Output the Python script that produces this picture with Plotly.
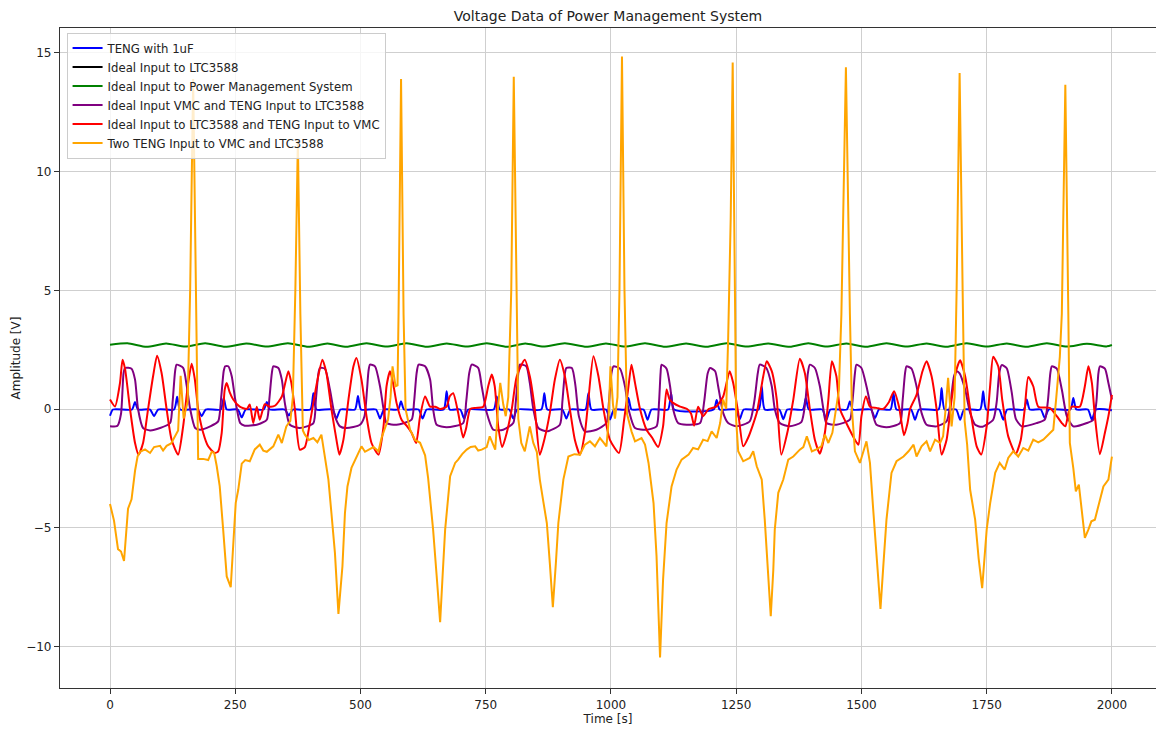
import plotly.graph_objects as go

# ---------------- data ----------------
blue_t = [0, 6, 44, 50, 56, 80, 88, 96, 128, 134, 140, 175, 183, 191, 221, 227, 233, 255, 263, 271,
          307, 313, 319, 349, 357, 365, 400, 406, 412, 444, 452, 460, 489, 495, 501, 531, 539, 547,
          575, 581, 587, 616, 624, 632, 666, 672, 678, 699, 707, 715, 766, 772, 778, 797, 805, 813,
          861, 867, 873, 903, 911, 919, 949, 955, 961, 990, 998, 1006, 1029, 1035, 1041, 1065, 1073,
          1081, 1114, 1120, 1126, 1205, 1211, 1217, 1249, 1257, 1265, 1295, 1301, 1307, 1336, 1344,
          1352, 1383, 1389, 1395, 1422, 1430, 1438, 1471, 1477, 1483, 1519, 1527, 1535, 1558, 1564,
          1570, 1599, 1607, 1615, 1654, 1660, 1666, 1689, 1697, 1705, 1737, 1743, 1749, 1775, 1783,
          1791, 1824, 1830, 1836, 1858, 1866, 1874, 1917, 1923, 1929, 1952, 1960, 1968, 2000]
blue_v = [-0.28, -0.02, -0.02, 0.3, -0.02, -0.02, -0.3, -0.02, -0.02, 0.52, -0.02, -0.02, -0.3, -0.02,
          -0.02, 0.47, -0.02, -0.02, -0.35, -0.02, -0.02, 0.3, -0.02, -0.02, -0.27, -0.02, -0.02, 0.67,
          -0.02, -0.02, -0.4, -0.02, -0.02, 0.55, -0.02, -0.02, -0.4, -0.02, -0.02, 0.33, -0.02, -0.02,
          -0.4, -0.02, -0.02, 0.75, -0.02, -0.02, -0.4, -0.02, -0.02, 0.53, -0.02, -0.02, -0.4, -0.02,
          -0.02, 0.67, -0.02, -0.02, -0.4, -0.02, -0.02, 0.67, -0.02, -0.02, -0.44, -0.02, -0.02, 0.47,
          -0.02, -0.02, -0.45, -0.02, -0.02, 0.67, -0.02, -0.02, 0.38, -0.02, -0.02, -0.43, -0.02,
          -0.02, 0.96, -0.02, -0.02, -0.43, -0.02, -0.02, 0.47, -0.02, -0.02, -0.45, -0.02, -0.02,
          0.33, -0.02, -0.02, -0.38, -0.02, -0.02, 0.67, -0.02, -0.02, -0.45, -0.02, -0.02, 0.89,
          -0.02, -0.02, -0.45, -0.02, -0.02, 0.75, -0.02, -0.02, -0.45, -0.02, -0.02, 0.4, -0.02,
          -0.02, -0.38, -0.02, -0.02, 0.47, -0.02, -0.02, -0.45, -0.02, -0.05]

# the black series has no visible samples in the picture (legend entry only)
black_t = [0]
black_v = [None]

green_t = [0, 35, 73, 112, 150, 190, 230, 272, 313, 355, 396, 434, 472, 512, 552, 592, 632, 672, 712,
           752, 792, 829, 865, 908, 951, 990, 1028, 1068, 1108, 1150, 1191, 1231, 1271, 1314, 1357,
           1394, 1430, 1470, 1510, 1550, 1590, 1630, 1670, 1710, 1750, 1790, 1830, 1870, 1910, 1950,
           1990, 2000]
green_v = [2.71, 2.77, 2.62, 2.76, 2.63, 2.77, 2.62, 2.76, 2.63, 2.77, 2.62, 2.76, 2.62, 2.77, 2.63,
           2.77, 2.62, 2.76, 2.63, 2.77, 2.62, 2.76, 2.63, 2.77, 2.62, 2.76, 2.63, 2.77, 2.62, 2.76,
           2.62, 2.77, 2.63, 2.76, 2.62, 2.77, 2.63, 2.76, 2.62, 2.77, 2.63, 2.76, 2.62, 2.77, 2.63,
           2.76, 2.62, 2.77, 2.63, 2.75, 2.64, 2.70]

purple_t = [0, 15, 22, 27, 30, 43, 50, 56, 66, 80, 100, 120, 125, 130, 133, 146, 153, 160, 170, 180,
            200, 216, 222, 227, 230, 236, 243, 250, 260, 269, 293, 313, 318, 323, 326, 336, 343, 349,
            359, 379, 406, 411, 416, 419, 429, 439, 449, 459, 472, 499, 508, 513, 516, 519, 529, 539,
            546, 552, 572, 602, 607, 612, 616, 629, 639, 645, 652, 672, 705, 711, 717, 722, 735, 742,
            752, 765, 785, 805, 810, 815, 818, 831, 838, 845, 855, 872, 898, 903, 908, 911, 922, 929,
            936, 948, 971, 991, 996, 1001, 1005, 1018, 1028, 1035, 1048, 1071, 1091, 1096, 1099, 1101,
            1111, 1118, 1124, 1134, 1151, 1178, 1186, 1193, 1198, 1208, 1214, 1224, 1234, 1251, 1277,
            1286, 1293, 1297, 1310, 1321, 1327, 1337, 1357, 1380, 1388, 1393, 1397, 1407, 1417, 1424,
            1430, 1450, 1477, 1482, 1487, 1490, 1500, 1510, 1520, 1530, 1550, 1577, 1582, 1587, 1590,
            1600, 1610, 1620, 1630, 1650, 1670, 1678, 1685, 1690, 1696, 1707, 1717, 1727, 1740, 1763,
            1770, 1775, 1780, 1790, 1800, 1808, 1820, 1850, 1866, 1872, 1877, 1880, 1890, 1900, 1910,
            1923, 1950, 1963, 1969, 1973, 1976, 1986, 1993, 2000]
purple_v = [-0.73, -0.7, -0.2, 1.5, 1.73, 1.7, 1.24, 0, -0.8, -0.9, -0.8, -0.59, 0.3, 1.6, 1.87, 1.73,
            1.0, 0, -0.8, -0.87, -0.73, -0.52, 0.5, 1.6, 1.8, 1.8, 1.38, 0.4, -0.59, -0.7, -0.66,
            -0.45, 0.4, 1.5, 1.8, 1.73, 1.24, 0.26, -0.66, -0.8, -0.59, 0.4, 1.5, 1.73, 1.7, 0.82,
            -0.3, -0.73, -0.8, -0.66, -0.3, 0.8, 1.6, 1.87, 1.8, 0.96, 0, -0.59, -0.66, -0.45, 0.3,
            1.5, 1.87, 1.8, 1.24, 0, -0.66, -0.77, -0.59, 0.3, 1.5, 1.87, 1.73, 0.96, -0.16, -0.87,
            -0.87, -0.59, 0.3, 1.5, 1.87, 1.8, 1.1, 0, -0.8, -0.94, -0.66, 0.3, 1.5, 1.73, 1.73, 1.0,
            -0.3, -0.94, -0.87, -0.59, 0.3, 1.5, 1.8, 1.7, 0.96, 0, -0.8, -0.87, -0.73, 0.3, 1.5,
            1.87, 1.7, 0.96, 0, -0.59, -0.66, -0.59, 0.3, 1.5, 1.73, 1.59, 0.96, -0.16, -0.59, -0.73,
            -0.52, 0.3, 1.5, 1.87, 1.73, 0.96, 0, -0.59, -0.73, -0.55, 0.3, 1.5, 1.87, 1.73, 0.96, 0,
            -0.59, -0.66, -0.45, 0.3, 1.5, 1.87, 1.73, 0.96, 0, -0.66, -0.77, -0.59, 0.3, 1.5, 1.8,
            1.7, 0.96, -0.16, -0.66, -0.73, -0.52, 0.3, 1.4, 1.59, 1.5, 0.82, -0.16, -0.66, -0.75,
            -0.45, 0.3, 1.5, 1.85, 1.72, 0.7, -0.4, -0.73, -0.59, -0.45, 0.3, 1.5, 1.8, 1.7, 0.82,
            -0.3, -0.73, -0.59, -0.45, 0.3, 1.5, 1.8, 1.7, 1.1, 0.4]

red_t = [0, 10, 20, 25, 30, 40, 50, 57, 66, 76, 86, 94, 103, 113, 123, 136, 146, 156, 163, 169, 176,
         186, 196, 209, 216, 223, 229, 233, 239, 246, 259, 273, 279, 286, 293, 299, 309, 319, 330, 343,
         356, 362, 369, 379, 389, 399, 413, 424, 432, 442, 452, 458, 466, 476, 486, 492, 502, 512, 522,
         536, 546, 552, 559, 565, 572, 582, 592, 602, 611, 619, 629, 639, 649, 659, 672, 678, 685, 695,
         705, 711, 719, 730, 745, 755, 762, 768, 775, 783, 792, 802, 812, 828, 838, 848, 858, 868, 878,
         888, 898, 908, 918, 928, 938, 948, 955, 965, 975, 985, 998, 1016, 1026, 1035, 1041, 1048,
         1058, 1071, 1082, 1094, 1104, 1111, 1117, 1124, 1138, 1152, 1160, 1166, 1174, 1184, 1195,
         1210, 1224, 1237, 1244, 1254, 1264, 1274, 1291, 1304, 1311, 1321, 1331, 1340, 1352, 1364,
         1377, 1387, 1397, 1407, 1417, 1427, 1434, 1441, 1450, 1457, 1470, 1487, 1494, 1500, 1509,
         1517, 1530, 1543, 1555, 1565, 1575, 1585, 1592, 1597, 1610, 1622, 1630, 1640, 1650, 1660,
         1670, 1680, 1689, 1697, 1707, 1717, 1730, 1739, 1750, 1757, 1763, 1773, 1781, 1793, 1808,
         1818, 1826, 1833, 1843, 1853, 1876, 1890, 1900, 1907, 1914, 1920, 1936, 1946, 1953, 1960,
         1966, 1976, 1986, 1993, 2000]
red_v = [0.4, 0.11, 1.1, 2.08, 1.7, 0, -1.43, -1.92, -1.43, 0, 1.38, 2.25, 1.52, 0, -1.29, -1.92,
         -0.73, 1.1, 1.91, 1.3, 0, -1.0, -1.57, -1.85, -1.78, -1.0, 0.82, 1.1, 0.7, 0.4, 0.1, 0, 0.19,
         -0.59, 0.1, -0.45, 0.2, 0.1, 0.15, 0.53, 1.59, 1.1, 0, -1.71, -1.6, -0.59, 1.1, 2.08, 1.52, 0,
         -1.29, -1.92, -1.29, 0.4, 1.8, 2.15, 1.24, -0.3, -1.43, -1.92, -0.73, 0.96, 1.59, 1.1, 0.26,
         -0.45, -0.7, -1.0, -1.43, -0.3, 0.53, 0.1, 0.1, 0, 0.1, 0.53, 0.67, -0.16, -1.2, -0.8, 0,
         0.05, 0.1, 0.96, 1.45, 0.96, -0.73, -1.6, -1.0, 0, 1.38, 2.08, 1.38, 0, -1.92, -1.2, -0.16,
         1.24, 2.08, 1.38, 0, -1.3, -1.92, -1.0, 0.4, 2.22, 1.38, 0, -1.3, -1.85, -0.5, 0.96, 1.87,
         1.1, 0, -0.87, -1.2, -1.6, -0.73, 0.82, 0.4, 0.26, 0.1, 0, -0.2, -0.7, 0.1, -0.3, 0.0, 0.1,
         0.53, 1.59, 1.1, -0.16, -1.57, -1.2, -0.16, 1.38, 2.01, 1.6, 0.4, -1.92, -1.0, 0.4, 2.12,
         1.52, 0, -1.29, -1.88, -1.0, 0.4, 2.01, 1.38, 0, -0.6, -1.29, -1.5, -0.3, 0.53, 0.1, 0.05, 0,
         0.3, 0.75, 0.1, -1.1, -0.6, 0, 0.6, 1.6, 2.01, 1.38, 0, -1.92, -1.29, 0.4, 1.6, 2.05, 1.38,
         0, -1.57, -1.92, -0.73, 1.0, 2.2, 1.8, 0.4, -1.15, -1.88, -1.3, 0, 1.35, 0.96, 0.1, 0.05,
         -0.3, -0.59, -0.73, -0.1, 0.1, 0.1, 0.96, 1.8, 1.1, -0.3, -1.9, -1.0, -0.3, 0.6]

orange_t = [0, 8, 16, 22, 28, 36, 43, 50, 55, 60, 70, 80, 88, 100, 106, 113, 122, 130, 136, 141, 147,
            155, 160, 166, 171, 176, 186, 196, 203, 208, 213, 219, 226, 233, 241, 246, 251, 256, 263,
            270, 279, 289, 299, 306, 313, 326, 336, 343, 352, 360, 365, 370, 375, 380, 385, 389, 397,
            406, 414, 422, 429, 436, 442, 449, 456, 464, 469, 474, 482, 492, 502, 509, 516, 526, 536,
            542, 549, 555, 560, 564, 570, 574, 576, 581, 586, 590, 599, 609, 619, 629, 635, 645, 652,
            659, 664, 669, 679, 689, 695, 703, 712, 720, 729, 735, 742, 752, 758, 764, 769, 775, 779,
            785, 790, 795, 801, 806, 811, 815, 821, 828, 838, 845, 852, 858, 865, 872, 878, 884, 890,
            895, 905, 915, 927, 938, 948, 958, 968, 978, 985, 991, 995, 999, 1004, 1008, 1013, 1017,
            1022, 1027, 1032, 1041, 1048, 1061, 1068, 1075, 1085, 1091, 1098, 1104, 1111, 1121, 1131,
            1141, 1155, 1164, 1174, 1184, 1193, 1201, 1211, 1218, 1224, 1230, 1234, 1239, 1243, 1247,
            1250, 1254, 1264, 1277, 1284, 1291, 1301, 1307, 1313, 1319, 1324, 1327, 1334, 1344, 1354,
            1364, 1377, 1384, 1391, 1401, 1410, 1420, 1427, 1434, 1442, 1450, 1455, 1460, 1469, 1477,
            1481, 1487, 1497, 1510, 1517, 1524, 1531, 1538, 1544, 1550, 1560, 1570, 1584, 1594, 1604,
            1610, 1620, 1630, 1637, 1647, 1657, 1663, 1668, 1673, 1680, 1686, 1690, 1696, 1702, 1706,
            1711, 1717, 1727, 1734, 1741, 1746, 1750, 1757, 1767, 1776, 1786, 1793, 1803, 1813, 1823,
            1833, 1843, 1853, 1863, 1873, 1883, 1889, 1896, 1900, 1907, 1913, 1916, 1923, 1928, 1934,
            1940, 1946, 1953, 1959, 1966, 1973, 1983, 1993, 2000]
orange_v = [-4.0, -4.7, -5.9, -6.0, -6.4, -4.2, -3.8, -2.6, -2.0, -1.8, -1.7, -1.85, -1.6, -1.55,
            -1.75, -1.55, -1.45, -1.15, -0.9, 1.4, -0.4, 0.3, 5.0, 13.9, 5.0, -2.1, -2.1, -2.15,
            -1.8, -1.85, -2.4, -3.25, -5.1, -7.05, -7.5, -5.8, -3.95, -3.4, -2.3, -2.15, -2.2, -1.7,
            -1.5, -1.75, -1.8, -1.57, -1.08, -1.43, -0.73, -0.5, 0.5, 5.0, 11.3, 4.0, -0.9, -1.08,
            -1.3, -1.22, -1.4, -1.08, -2.13, -2.97, -4.38, -6.06, -8.63, -6.62, -4.38, -3.26, -2.48,
            -2.06, -1.57, -1.8, -1.71, -1.6, -1.78, -1.22, -0.8, -0.45, 0.5, 1.8, 0.96, 1.0, 4.0,
            13.9, 4.0, 0.0, -0.87, -1.3, -1.42, -1.95, -2.9, -5.08, -7.0, -8.98, -7.0, -5.08, -2.83,
            -2.27, -2.13, -1.9, -1.71, -1.6, -1.57, -1.75, -1.71, -1.6, -1.15, -1.5, -1.71, 0.2, 1.1,
            0.2, -0.3, 0.5, 5.0, 14.0, 5.0, -0.4, -1.43, -1.78, -0.73, -1.43, -1.8, -2.97, -3.9, -4.8,
            -6.5, -8.35, -6.5, -4.8, -2.97, -2.0, -1.9, -1.92, -1.5, -1.36, -1.57, -1.22, -1.4, -1.57,
            -0.59, 1.8, 0.2, -0.4, 0.5, 5.0, 14.85, 5.0, -0.2, -0.94, -1.36, -1.22, -1.5, -2.27,
            -3.96, -6.2, -10.46, -7.19, -4.8, -3.26, -2.55, -2.13, -1.92, -1.64, -1.7, -1.29, -1.35,
            -0.94, -1.22, -0.59, 0.4, 0.0, 3.0, 8.0, 14.6, 6.0, -0.5, -1.78, -2.2, -2.06, -1.78,
            -2.41, -2.97, -4.66, -6.8, -8.73, -6.8, -5.08, -3.53, -2.97, -2.13, -2.0, -1.71, -1.6,
            -1.15, -1.78, -1.7, -1.57, -1.08, -1.43, -1.0, 0.0, 0.8, 4.0, 14.4, 4.0, 0.0, -1.78,
            -2.27, -1.36, -2.27, -4.38, -6.5, -8.42, -6.5, -4.66, -2.69, -2.2, -2.0, -1.78, -1.5,
            -2.0, -1.57, -1.36, -1.78, -1.29, -1.43, -1.15, 0.0, 1.31, -0.73, 0.5, 5.0, 14.15, 5.0,
            -0.5, -1.5, -3.4, -4.66, -6.3, -7.54, -6.3, -5.08, -3.96, -2.69, -2.27, -2.55, -2.06,
            -1.78, -2.0, -1.64, -1.75, -1.29, -1.4, -1.29, -1.08, -0.87, 0.5, 2.2, 4.0, 13.66, 4.0,
            -1.43, -2.5, -3.47, -3.18, -4.38, -5.43, -5.08, -4.73, -4.66, -4.1, -3.26, -2.97, -2.0]

series = [
    ("TENG with 1uF", blue_t, blue_v, "#0000ff", "spline"),
    ("Ideal Input to LTC3588", black_t, black_v, "#000000", "linear"),
    ("Ideal Input to Power Management System", green_t, green_v, "#008000", "spline"),
    ("Ideal Input VMC and TENG Input to LTC3588", purple_t, purple_v, "#800080", "spline"),
    ("Ideal Input to LTC3588 and TENG Input to VMC", red_t, red_v, "#ff0000", "spline"),
    ("Two TENG Input to VMC and LTC3588", orange_t, orange_v, "#ffa500", "linear"),
]

FONT = "DejaVu Sans, Liberation Sans, sans-serif"
TXT = "#222222"

fig = go.Figure()
for name, t, v, color, shape in series:
    line = dict(color=color, width=2, shape=shape)
    if shape == "spline":
        line["smoothing"] = 0.6
    fig.add_trace(go.Scatter(x=t, y=v, mode="lines", name=name, line=line, showlegend=True))

axis_common = dict(
    showgrid=True, gridcolor="#cfcfcf", gridwidth=1,
    zeroline=False, showline=True, linecolor="#333333", linewidth=1.2,
    ticks="outside", ticklen=5, tickwidth=1, tickcolor="#333333",
    tickfont=dict(family=FONT, size=12, color=TXT),
)

fig.update_layout(
    width=1156, height=729,
    margin=dict(l=60, r=0, t=28, b=41),
    paper_bgcolor="white", plot_bgcolor="white",
    font=dict(family=FONT, size=12, color=TXT),
    title=dict(text="Voltage Data of Power Management System", x=0.5, xref="paper",
               y=1 - 16 / 729, yref="container", yanchor="middle", xanchor="center",
               font=dict(family=FONT, size=14, color=TXT)),
    showlegend=True,
    legend=dict(x=0.006, y=0.993, xanchor="left", yanchor="top",
                bgcolor="rgba(255,255,255,0.8)", bordercolor="#cccccc", borderwidth=1,
                font=dict(family=FONT, size=11.7, color=TXT),
                itemwidth=30, tracegroupgap=0),
    xaxis=dict(range=[-99.8, 2088], tickvals=[0, 250, 500, 750, 1000, 1250, 1500, 1750, 2000],
               mirror=True, title=dict(text="Time [s]", standoff=4,
                                        font=dict(family=FONT, size=12, color=TXT)),
               **axis_common),
    yaxis=dict(range=[-11.75, 16.05], tickvals=[-10, -5, 0, 5, 10, 15],
               title=dict(text="Amplitude [V]", standoff=2,
                          font=dict(family=FONT, size=12, color=TXT)),
               **axis_common),
)

fig.write_html("out.html")
